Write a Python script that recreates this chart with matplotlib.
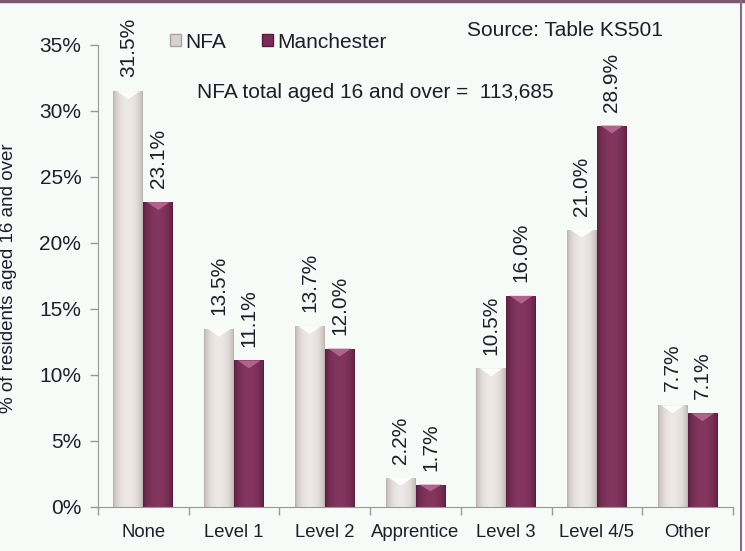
import numpy as np
import matplotlib
matplotlib.use("Agg")
import matplotlib.pyplot as plt
from matplotlib.patches import Patch, Polygon
from matplotlib.lines import Line2D
from matplotlib.colors import to_rgb

categories = ["None", "Level 1", "Level 2", "Apprentice", "Level 3", "Level 4/5", "Other"]
nfa = [31.5, 13.5, 13.7, 2.2, 10.5, 21.0, 7.7]
manchester = [23.1, 11.1, 12.0, 1.7, 16.0, 28.9, 7.1]
series_names = ["NFA", "Manchester"]
y_ticks = [0, 5, 10, 15, 20, 25, 30, 35]
total_note = "NFA total aged 16 and over =  113,685"
source_note = "Source: Table KS501"

W, H = 745, 551
bg = "#f6fbf8"
txt = "#1e1e28"
nfa_edge, nfa_mid, nfa_cap = "#b4adaa", "#eee9e6", "#ffffff"
man_edge, man_mid, man_cap = "#561a3a", "#83365f", "#b9688f"

plt.rcParams["font.family"] = ["Liberation Sans", "DejaVu Sans"]

fig = plt.figure(figsize=(W / 100, H / 100), dpi=100, facecolor=bg)
ax = fig.add_axes([98 / W, 1 - 507 / H, (733 - 98) / W, (507 - 45) / H])
ax.set_facecolor(bg)


def gradient(edge, mid):
    t = np.linspace(0, 1, 64)
    w = np.sin(np.pi * t) ** 0.5
    e, m = np.array(to_rgb(edge)), np.array(to_rgb(mid))
    return (e[None, :] + (m - e)[None, :] * w[:, None])[None, :, :]


bw = 0.33
x = np.arange(len(categories))
styles = [(nfa, -bw / 2, nfa_edge, nfa_mid, nfa_cap), (manchester, bw / 2, man_edge, man_mid, man_cap)]
for vals, off, edge, mid, cap in styles:
    bars = ax.bar(x + off, vals, width=bw, facecolor="none", edgecolor="none", zorder=2)
    img = gradient(edge, mid)
    for b, v in zip(bars, vals):
        x0, x1 = b.get_x(), b.get_x() + b.get_width()
        im = ax.imshow(img, extent=[x0, x1, 0, v], aspect="auto", interpolation="bilinear", zorder=2)
        im.set_clip_path(b)
        d = min(0.6, v * 0.3)
        xc = (x0 + x1) / 2
        ax.add_patch(Polygon([(x0 + bw * 0.12, v), (x1 - bw * 0.12, v), (xc, v - d)],
                             closed=True, facecolor=cap, edgecolor="none", alpha=0.9, zorder=3))
        ax.annotate(f"{v:.1f}%", (xc, v), xytext=(0, 10), textcoords="offset points",
                    rotation=90, ha="center", va="bottom", fontsize=15, color=txt)

ax.set_xlim(-0.5, len(categories) - 0.5)
ax.set_ylim(0, 35)
ax.set_yticks(y_ticks)
ax.set_yticklabels([f"{t}%" for t in y_ticks], fontsize=15, color=txt)
ax.tick_params(axis="y", length=6, width=1, color="#999999", pad=6)
ax.set_xticks(x)
ax.set_xticklabels(categories, fontsize=13.3, color=txt)
ax.set_xticks(np.arange(len(categories) + 1) - 0.5, minor=True)
ax.tick_params(axis="x", which="major", length=0, pad=12)
ax.tick_params(axis="x", which="minor", length=6, width=1, color="#999999")
for s in ["top", "right"]:
    ax.spines[s].set_visible(False)
for s in ["left", "bottom"]:
    ax.spines[s].set_color("#999999")

handles = [Patch(facecolor="#d9d3d0", edgecolor="#a9a3a0"), Patch(facecolor="#7a2c58", edgecolor="#5a1c3e")]
fig.legend(handles, series_names, loc="center left", bbox_to_anchor=(170 / W, 1 - 42 / H),
           ncol=2, frameon=False, fontsize=15, handlelength=0.55, handleheight=0.55,
           handletextpad=0.2, columnspacing=1.7, borderpad=0, borderaxespad=0, labelcolor=txt)

fig.text(197 / W, 1 - 92 / H, total_note, fontsize=15, color=txt, va="center", ha="left")
fig.text(467 / W, 1 - 30 / H, source_note, fontsize=15, color=txt, va="center", ha="left")
fig.text(9 / W, 1 - 278 / H, "% of residents aged 16 and over", rotation=90, fontsize=13.5,
         color=txt, va="center", ha="center")

fig.add_artist(Line2D([0, 1], [1 - 1 / H, 1 - 1 / H], transform=fig.transFigure, color="#7d5a72", lw=2.5))
fig.add_artist(Line2D([741 / W, 741 / W], [0, 1], transform=fig.transFigure, color="#8a6a80", lw=1.5))

fig.savefig("out.png", dpi=100, facecolor=bg)
